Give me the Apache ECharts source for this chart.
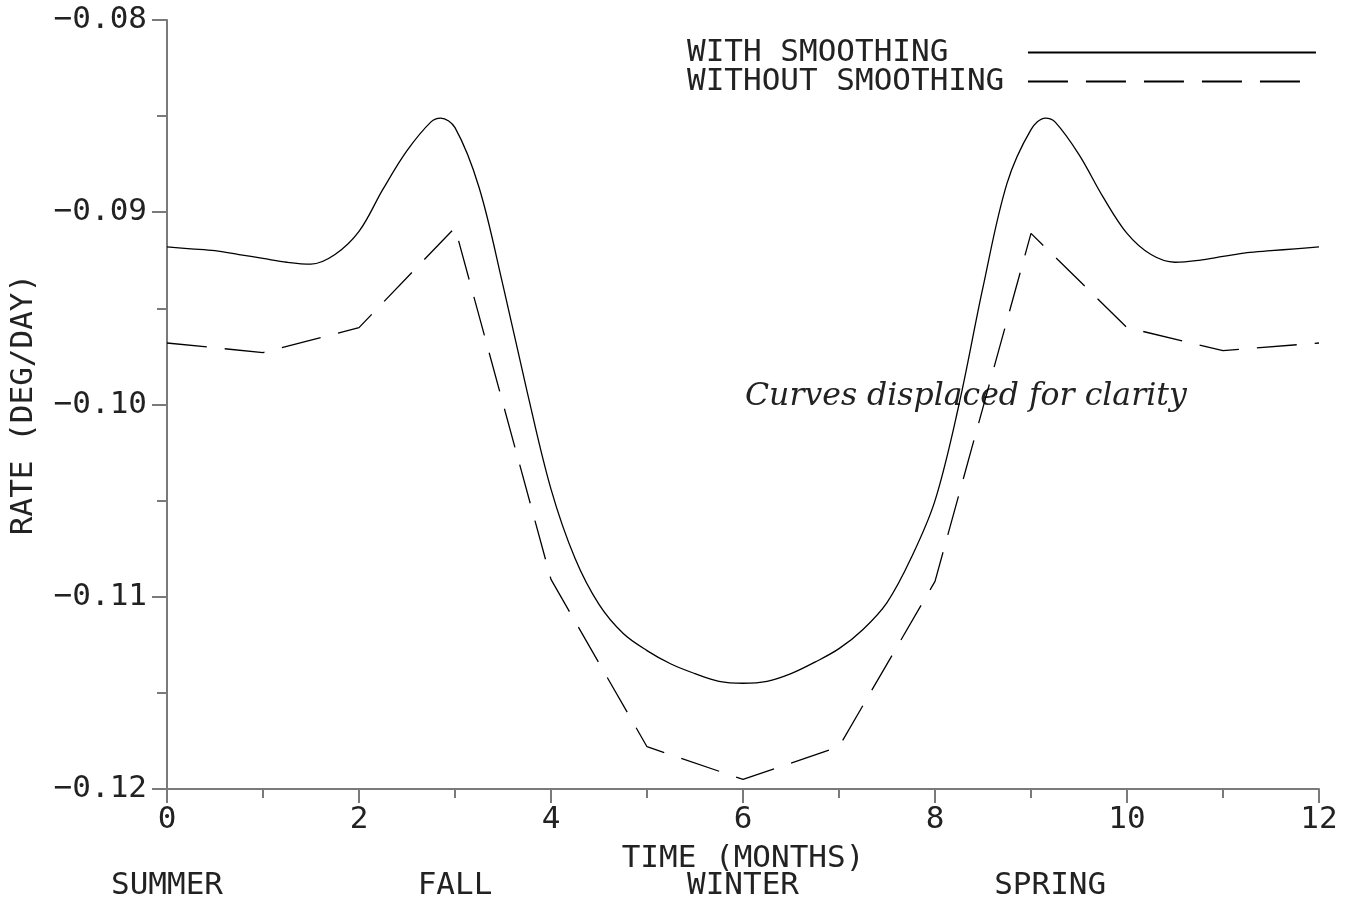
<!DOCTYPE html>
<html>
<head>
<meta charset="utf-8">
<script src="https://cdn.jsdelivr.net/npm/echarts@6/dist/echarts.min.js"></script>
<style>
  html, body { margin: 0; padding: 0; background: #fff; }
  #chart { width: 1350px; height: 901px; }
</style>
</head>
<body>
<div id="chart"></div>
<script>
// smoothed curve
const smoothMonths = [0, 0.25, 0.5, 0.75, 1, 1.25, 1.5, 1.75, 2, 2.25, 2.5, 2.75, 2.85, 3, 3.25, 3.5, 3.75, 4, 4.25, 4.5, 4.75, 5, 5.25, 5.5, 5.75, 6,
  6.25, 6.5, 6.75, 7, 7.25, 7.5, 7.75, 8, 8.25, 8.5, 8.75, 9, 9.15, 9.25, 9.5, 9.75, 10, 10.25, 10.5, 10.75, 11, 11.25, 11.5, 11.75, 12];
const smoothRate = [-0.0918, -0.0919, -0.0920, -0.0922, -0.0924, -0.0926, -0.0927, -0.0922, -0.0910, -0.0888, -0.0868, -0.0853, -0.0851, -0.0856,
  -0.0887, -0.0938, -0.0993, -0.1044, -0.1080, -0.1104, -0.1119, -0.1128, -0.1135, -0.1140, -0.1144, -0.1145,
  -0.1144, -0.1140, -0.1134, -0.1127, -0.1117, -0.1103, -0.1080, -0.1050, -0.1000, -0.0939, -0.0885, -0.0857, -0.0851,
  -0.0853, -0.0870, -0.0892, -0.0911, -0.0922, -0.0926, -0.0925, -0.0923, -0.0921, -0.0920, -0.0919, -0.0918];

// raw monthly values
const rawMonths = [0, 1, 2, 3, 4, 5, 6, 7, 8, 9, 10, 11, 12];
const rawRate = [-0.0968, -0.0973, -0.0960, -0.0908, -0.1091, -0.1178, -0.1195, -0.1178, -0.1092, -0.0911, -0.0960, -0.0972, -0.0968];

const seasonNames = ["SUMMER", "FALL", "WINTER", "SPRING"];
const seasonMonths = [0, 3, 6, 9.2];

const seriesNames = ["WITH SMOOTHING", "WITHOUT SMOOTHING"];
const note = "Curves displaced for clarity";

const mono = "'DejaVu Sans Mono', monospace";
const ink = "#222";
const axisGray = "#7a7a7a";

function pairs(xs, ys) {
  return xs.map((x, i) => [x, ys[i]]);
}

let chart = echarts.init(document.getElementById("chart"));

let option = {
  backgroundColor: "#fff",
  animation: false,
  grid: { left: 167, right: 31, top: 20, bottom: 112 },
  legend: {
    orient: "vertical",
    left: 682,
    top: 32,
    align: "right",
    itemWidth: 288,
    itemHeight: 12,
    itemGap: -2,
    itemStyle: { opacity: 0 },
    // monospace text: pad so both lines end up the same width
    formatter: name => name.padEnd(18, " "),
    textStyle: { fontFamily: mono, fontSize: 31, color: ink },
    data: seriesNames
  },
  xAxis: {
    type: "value",
    min: 0,
    max: 12,
    interval: 2,
    name: "TIME (MONTHS)",
    nameLocation: "middle",
    nameGap: 54,
    nameTextStyle: { fontFamily: mono, fontSize: 31, color: ink },
    axisLine: { lineStyle: { color: axisGray, width: 2 } },
    axisTick: { length: 14, lineStyle: { color: axisGray, width: 2 } },
    minorTick: { show: true, splitNumber: 2, length: 9, lineStyle: { color: axisGray, width: 2 } },
    splitLine: { show: false },
    axisLabel: { margin: 15, fontFamily: mono, fontSize: 31, color: ink }
  },
  yAxis: {
    type: "value",
    min: -0.12,
    max: -0.08,
    interval: 0.01,
    name: "RATE (DEG/DAY)",
    nameLocation: "middle",
    nameGap: 128,
    nameTextStyle: { fontFamily: mono, fontSize: 31, color: ink },
    axisLine: { show: true, lineStyle: { color: axisGray, width: 2 } },
    axisTick: { show: true, length: 15, lineStyle: { color: axisGray, width: 2 } },
    minorTick: { show: true, splitNumber: 2, length: 10, lineStyle: { color: axisGray, width: 2 } },
    splitLine: { show: false },
    axisLabel: {
      margin: 20,
      fontFamily: mono,
      fontSize: 31,
      color: ink,
      formatter: v => v.toFixed(2).replace("-", "\u2212")
    }
  },
  series: [
    {
      name: seriesNames[0],
      type: "line",
      data: pairs(smoothMonths, smoothRate),
      smooth: 0.35,
      symbol: "none",
      lineStyle: { color: "#000", width: 1.3 },
      itemStyle: { color: "#000" }
    },
    {
      name: seriesNames[1],
      type: "line",
      data: pairs(rawMonths, rawRate),
      symbol: "none",
      lineStyle: { color: "#000", width: 1.3, type: [40, 18] },
      itemStyle: { color: "#000" }
    }
  ]
};

chart.setOption(option);

// season labels under the month axis, and the italic note
let labels = seasonNames.map((s, i) => ({
  type: "text",
  x: chart.convertToPixel({ xAxisIndex: 0 }, seasonMonths[i]),
  y: 886,
  style: {
    text: s,
    fontFamily: mono,
    fontSize: 31,
    fill: ink,
    align: "center",
    textAlign: "center",
    verticalAlign: "middle",
    textVerticalAlign: "middle"
  }
}));
labels.push({
  type: "text",
  x: 745,
  y: 397,
  style: {
    text: note,
    fontFamily: "'DejaVu Serif', serif",
    fontStyle: "italic",
    fontSize: 31.5,
    fill: ink,
    align: "left",
    textAlign: "left",
    verticalAlign: "middle",
    textVerticalAlign: "middle"
  }
});
chart.setOption({ graphic: labels });
</script>
</body>
</html>
